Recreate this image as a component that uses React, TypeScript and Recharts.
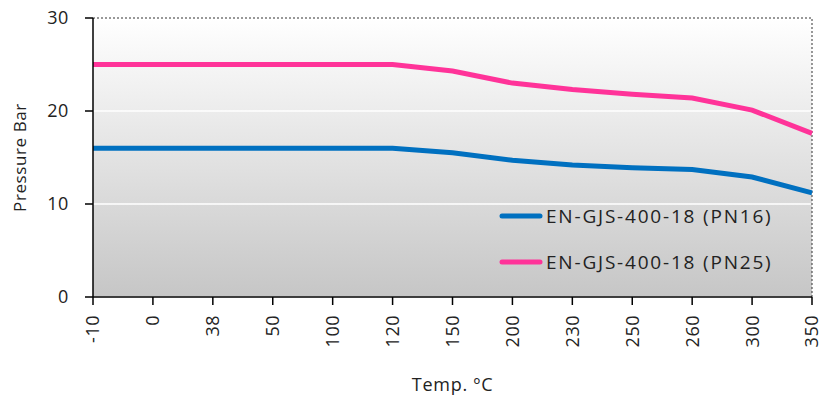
import React from 'react';
import { LineChart, Line, XAxis, YAxis, CartesianGrid, ReferenceLine } from 'recharts';

const temps = ['-10', '0', '38', '50', '100', '120', '150', '200', '230', '250', '260', '300', '350'];
const pn16 = [16, 16, 16, 16, 16, 16, 15.5, 14.7, 14.2, 13.9, 13.7, 12.9, 11.2];
const pn25 = [25, 25, 25, 25, 25, 25, 24.3, 23.0, 22.3, 21.8, 21.4, 20.1, 17.6];
const yTicks = [0, 10, 20, 30];
const seriesNames = ['EN-GJS-400-18 (PN16)', 'EN-GJS-400-18 (PN25)'];

const data = temps.map((t, i) => ({ temp: t, pn16: pn16[i], pn25: pn25[i] }));

const FONT = '"Open Sans", "Noto Sans", sans-serif';
const BLUE = '#0070C0';
const PINK = '#FF3399';

const XTick = (props: any) => {
  const { x, y, payload } = props;
  return (
    <text
      x={x}
      y={y}
      transform={`rotate(-90 ${x} ${y})`}
      textAnchor="end"
      dy="0.36em"
      dx={-8}
      fill="#222"
      fontSize={18}
      fontFamily={FONT}
      letterSpacing={0.5}
    >
      {payload.value}
    </text>
  );
};

// legend drawn on top of the plot, like the original
const LegendBox = () => {
  const colors = [BLUE, PINK];
  return (
    <svg width={320} height={100} style={{ position: 'absolute', left: 496, top: 200 }}>
      {seriesNames.map((name, i) => (
        <g key={name}>
          <line x1={6} x2={44} y1={16 + i * 46} y2={16 + i * 46} stroke={colors[i]} strokeWidth={5} strokeLinecap="round" />
          <text x={50} y={16 + i * 46} dy="0.36em" fontSize={19} fontFamily={FONT} fill="#222" letterSpacing={1.8}>
            {name}
          </text>
        </g>
      ))}
    </svg>
  );
};

export default function App() {
  return (
    <div style={{ position: 'fixed', left: 0, top: 0, width: 827, height: 401, background: '#fff' }}>
      <svg width={0} height={0} style={{ position: 'absolute' }}>
        <defs>
          <linearGradient id="plotBg" x1="0" y1="0" x2="0" y2="1">
            <stop offset="0%" stopColor="#ffffff" />
            <stop offset="100%" stopColor="#c6c6c6" />
          </linearGradient>
        </defs>
      </svg>
      <LineChart width={827} height={401} data={data} margin={{ top: 18, right: 15, left: 0, bottom: 0 }}>
        <CartesianGrid vertical={false} stroke="#ffffff" strokeWidth={1.5} fill="url(#plotBg)" />
        <XAxis
          dataKey="temp"
          interval={0}
          height={104}
          padding={{ left: 0, right: 0 }}
          tick={<XTick />}
          tickSize={8}
          stroke="#000"
          strokeWidth={1.5}
          tickLine={{ stroke: '#000', strokeWidth: 1.5 }}
          label={{ value: 'Temp. ºC', position: 'insideBottom', offset: 10, fill: '#222', fontSize: 18, fontFamily: FONT, letterSpacing: 0.8 }}
        />
        <YAxis
          domain={[0, 30]}
          ticks={yTicks}
          width={93}
          tickSize={8}
          tickMargin={16}
          stroke="#000"
          strokeWidth={1.5}
          tick={{ fill: '#222', fontSize: 18, fontFamily: FONT, letterSpacing: 0.6 }}
          label={{ value: 'Pressure Bar', angle: -90, position: 'insideLeft', offset: 20, fill: '#222', fontSize: 17, fontFamily: FONT, letterSpacing: 0.6, style: { textAnchor: 'middle' } }}
        />
        <ReferenceLine y={30} stroke="#333" strokeDasharray="2 2" strokeWidth={1} />
        <ReferenceLine x="350" stroke="#333" strokeDasharray="2 2" strokeWidth={1} />
        <Line type="linear" dataKey="pn16" stroke={BLUE} strokeWidth={5} dot={false} isAnimationActive={false} />
        <Line type="linear" dataKey="pn25" stroke={PINK} strokeWidth={5} dot={false} isAnimationActive={false} />
      </LineChart>
      <LegendBox />
    </div>
  );
}
